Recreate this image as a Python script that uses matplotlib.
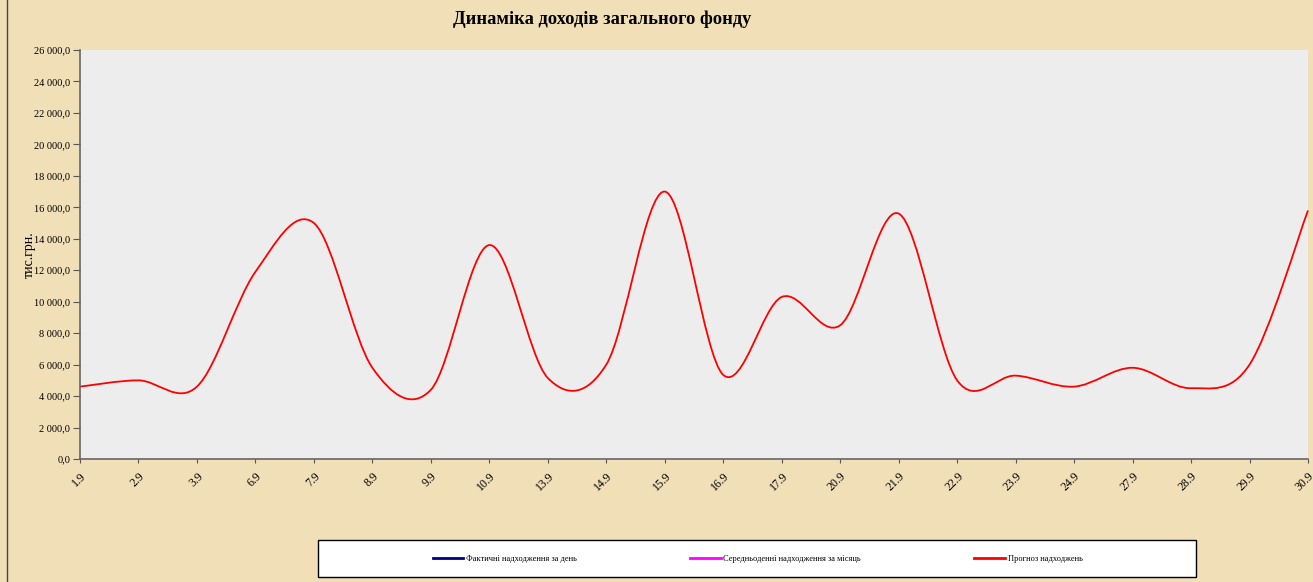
import matplotlib
matplotlib.use("Agg")
import matplotlib.pyplot as plt
from matplotlib.path import Path
from matplotlib.patches import PathPatch, Rectangle
from matplotlib.lines import Line2D
from matplotlib.ticker import FuncFormatter, MultipleLocator

# ---- data ----
categories = ["1.9", "2.9", "3.9", "6.9", "7.9", "8.9", "9.9", "10.9", "13.9", "14.9", "15.9",
              "16.9", "17.9", "20.9", "21.9", "22.9", "23.9", "24.9", "27.9", "28.9", "29.9", "30.9"]
forecast = [4600, 5000, 4600, 11900, 15000, 5800, 4400, 13600, 5150, 6000, 17000,
            5350, 10300, 8500, 15600, 5000, 5300, 4600, 5800, 4500, 6000, 15800]
series_names = ["Фактичні надходження за день",
                "Середньоденні надходження за місяць",
                "Прогноз надходжень"]
series_colors = ["#000080", "#FF00FF", "#FF0000"]
title = "Динаміка доходів загального фонду"
ylabel = "тис.грн."

W, H = 1313, 582
fig = plt.figure(figsize=(W / 100, H / 100), dpi=100)
fig.patch.set_facecolor("#F1DFB8")
plt.rcParams['font.family'] = ['Liberation Serif', 'DejaVu Serif']

ax = fig.add_axes([80 / W, 1 - 459 / H, 1228 / W, 409 / H])
ax.set_facecolor("#EDEDED")

# smoothed line (Excel-like Catmull-Rom through points)
xs = list(range(len(forecast)))
pts = list(zip(xs, forecast))
verts = [pts[0]]
codes = [Path.MOVETO]
n = len(pts)
for i in range(n - 1):
    p0 = pts[max(i - 1, 0)]
    p1 = pts[i]
    p2 = pts[i + 1]
    p3 = pts[min(i + 2, n - 1)]
    c1 = (p1[0] + (p2[0] - p0[0]) / 6, p1[1] + (p2[1] - p0[1]) / 6)
    c2 = (p2[0] - (p3[0] - p1[0]) / 6, p2[1] - (p3[1] - p1[1]) / 6)
    verts += [c1, c2, p2]
    codes += [Path.CURVE4] * 3
ax.add_patch(PathPatch(Path(verts, codes), facecolor="none", edgecolor=series_colors[2],
                       lw=1.3, clip_on=False))

ax.set_xlim(0, len(categories) - 1)
ax.set_ylim(0, 26000)
ax.set_xticks(xs)
ax.set_xticklabels(categories, rotation=45, ha="right", va="top", rotation_mode="anchor",
                   fontsize=8.5)
ax.yaxis.set_major_locator(MultipleLocator(2000))
ax.yaxis.set_major_formatter(FuncFormatter(
    lambda v, p: f"{v:,.1f}".replace(",", " ").replace(".", ",")))
ax.tick_params(axis="y", labelsize=7.5, length=5, color="#555555", pad=2)
ax.tick_params(axis="x", length=3, color="#555555", pad=5)
for s in ["top", "right"]:
    ax.spines[s].set_visible(False)
for s in ["left", "bottom"]:
    ax.spines[s].set_color("#666666")
    ax.spines[s].set_linewidth(1.2)

ax.set_ylabel(ylabel, fontsize=10)
ax.yaxis.set_label_coords(-44 / 1228, 0.5)

fig.text(602 / W, 1 - 19 / H, title, ha="center", va="center", fontsize=13.3, fontweight="bold")

# figure border on the left
fig.add_artist(Line2D([7 / W, 7 / W], [0, 1], transform=fig.transFigure, color="#444444", lw=1))

# legend box
fig.add_artist(Rectangle((318 / W, 1 - 577 / H), (1196 - 318) / W, 37 / H,
                         transform=fig.transFigure, facecolor="white", edgecolor="black", lw=1))
handles = [Line2D([], [], color=c, lw=2) for c in series_colors]
leg = fig.legend(handles, series_names, loc="center left",
                 bbox_to_anchor=(425 / W, 1 - 559 / H), ncol=3, frameon=False,
                 fontsize=6.0, handlelength=3.7, handletextpad=0.3, columnspacing=13.6)

fig.savefig("out.png", dpi=100, facecolor=fig.get_facecolor())
